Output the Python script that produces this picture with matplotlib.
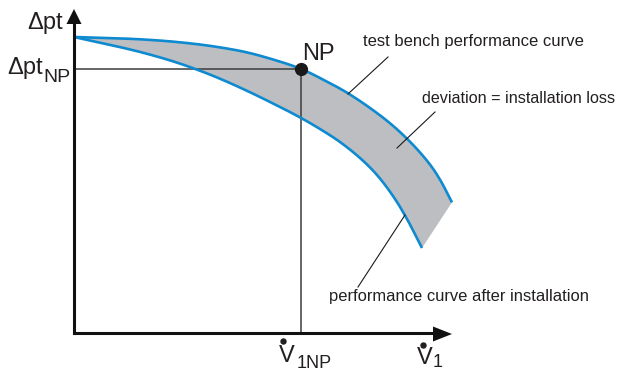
import matplotlib
matplotlib.use("Agg")
import matplotlib.pyplot as plt
import numpy as np

plt.rcParams['font.family'] = ['Liberation Sans', 'DejaVu Sans']

# ---- data (flow rate, pressure difference), arbitrary chart units ----
bench_flow = [0, 46, 76, 106, 139, 173, 206, 227, 246, 276, 309, 333, 353, 366, 378]
bench_dp = [296, 294.6, 293.1, 290.7, 286.7, 280.6, 271.4, 264, 255, 238.5, 215.4, 194.3, 172.3, 153.4, 130.6]

installed_flow = [0, 46, 76, 106, 139, 173, 206, 226, 246, 266, 286, 303, 319, 333, 348]
installed_dp = [296, 285.9, 278.4, 269.4, 257.2, 242.2, 226, 215.6, 204, 191, 175, 158, 137, 114, 85]

np_flow = 227
np_dp = 264

labels = {
    "bench": "test bench performance curve",
    "deviation": "deviation = installation loss",
    "installed": "performance curve after installation",
}

BLUE = '#0e8ad0'
GRAY = '#bdbec2'
TXT = '#231f20'


def smooth(xs, ys, n=12):
    """Catmull-Rom rendering of a polyline through the given points (drawing only)."""
    p = np.column_stack([xs, ys]).astype(float)
    p = np.vstack([2 * p[0] - p[1], p, 2 * p[-1] - p[-2]])
    out = []
    t = np.linspace(0, 1, n, endpoint=False)[:, None]
    for i in range(1, len(p) - 2):
        p0, p1, p2, p3 = p[i - 1], p[i], p[i + 1], p[i + 2]
        seg = 0.5 * ((2 * p1) + (-p0 + p2) * t + (2 * p0 - 5 * p1 + 4 * p2 - p3) * t ** 2
                     + (-p0 + 3 * p1 - 3 * p2 + p3) * t ** 3)
        out.append(seg)
    out.append(p[-2][None, :])
    out = np.vstack(out)
    return out[:, 0], out[:, 1]


fig = plt.figure(figsize=(6.19, 3.71), dpi=100)
ax = fig.add_axes([0, 0, 1, 1])
ax.set_xlim(-74, 545)
ax.set_ylim(-38, 333)
ax.axis('off')

bx, by = smooth(bench_flow, bench_dp)
ix, iy = smooth(installed_flow, installed_dp)

# band between curves
ax.fill(np.concatenate([bx, ix[::-1]]), np.concatenate([by, iy[::-1]]), color=GRAY, lw=0, zorder=1)

ax.plot(bx, by, color=BLUE, lw=1.9, zorder=3, solid_capstyle='butt')
ax.plot(ix, iy, color=BLUE, lw=1.9, zorder=3, solid_capstyle='butt')

# guide lines to the nominal point
ax.plot([0, np_flow], [np_dp, np_dp], color='#3c3c3c', lw=1.1, zorder=2)
ax.plot([np_flow, np_flow], [np_dp, 0], color='#3c3c3c', lw=1.1, zorder=2)
ax.plot([np_flow], [np_dp], 'o', color='#1a1a1a', ms=8.5, zorder=5)

# axes with arrows
ax.plot([0, 0], [0, 310], color='#111111', lw=2.2, zorder=4, solid_capstyle='projecting')
ax.plot([0, 360], [0, 0], color='#111111', lw=2.2, zorder=4, solid_capstyle='projecting')
ax.fill([0, -7.5, 7.5], [324, 309, 309], color='#111111', lw=0, zorder=4)
ax.fill([378, 359, 359], [-1, 6.5, -8.5], color='#111111', lw=0, zorder=4)

# leader lines
lk = dict(color='#1a1a1a', lw=0.8, zorder=4)
ax.plot([274, 314], [239, 276], **lk)
ax.plot([323, 361], [185, 221], **lk)
ax.plot([331, 284], [118, 46], **lk)

ax.text(289, 287, labels["bench"], fontsize=12, color=TXT, ha='left', va='baseline')
ax.text(348, 230, labels["deviation"], fontsize=11.6, color=TXT, ha='left', va='baseline')
ax.text(255, 32, labels["installed"], fontsize=11.9, color=TXT, ha='left', va='baseline')

bs = 17
ax.text(228, 273, "NP", fontsize=bs, color=TXT, ha='left', va='baseline')
ax.text(-11, 304, "Δpt", fontsize=bs, color=TXT, ha='right', va='baseline')
ax.text(-31, 259, "Δpt", fontsize=bs, color=TXT, ha='right', va='baseline')
ax.text(-31, 251, "NP", fontsize=14, color=TXT, ha='left', va='baseline')

# flow-rate symbols: V with a dot above
ax.text(212.5, -29, "V", fontsize=bs, color=TXT, ha='center', va='baseline')
ax.plot([209], [-8], 'o', color=TXT, ms=3.6, zorder=5)
ax.text(223, -35, "1NP", fontsize=13, color=TXT, ha='left', va='baseline')
ax.text(351, -30.5, "V", fontsize=bs, color=TXT, ha='center', va='baseline')
ax.plot([349], [-11.5], 'o', color=TXT, ms=3.6, zorder=5)
ax.text(359, -37.8, "1", fontsize=13, color=TXT, ha='left', va='bottom')

fig.savefig("out.png", dpi=100)
